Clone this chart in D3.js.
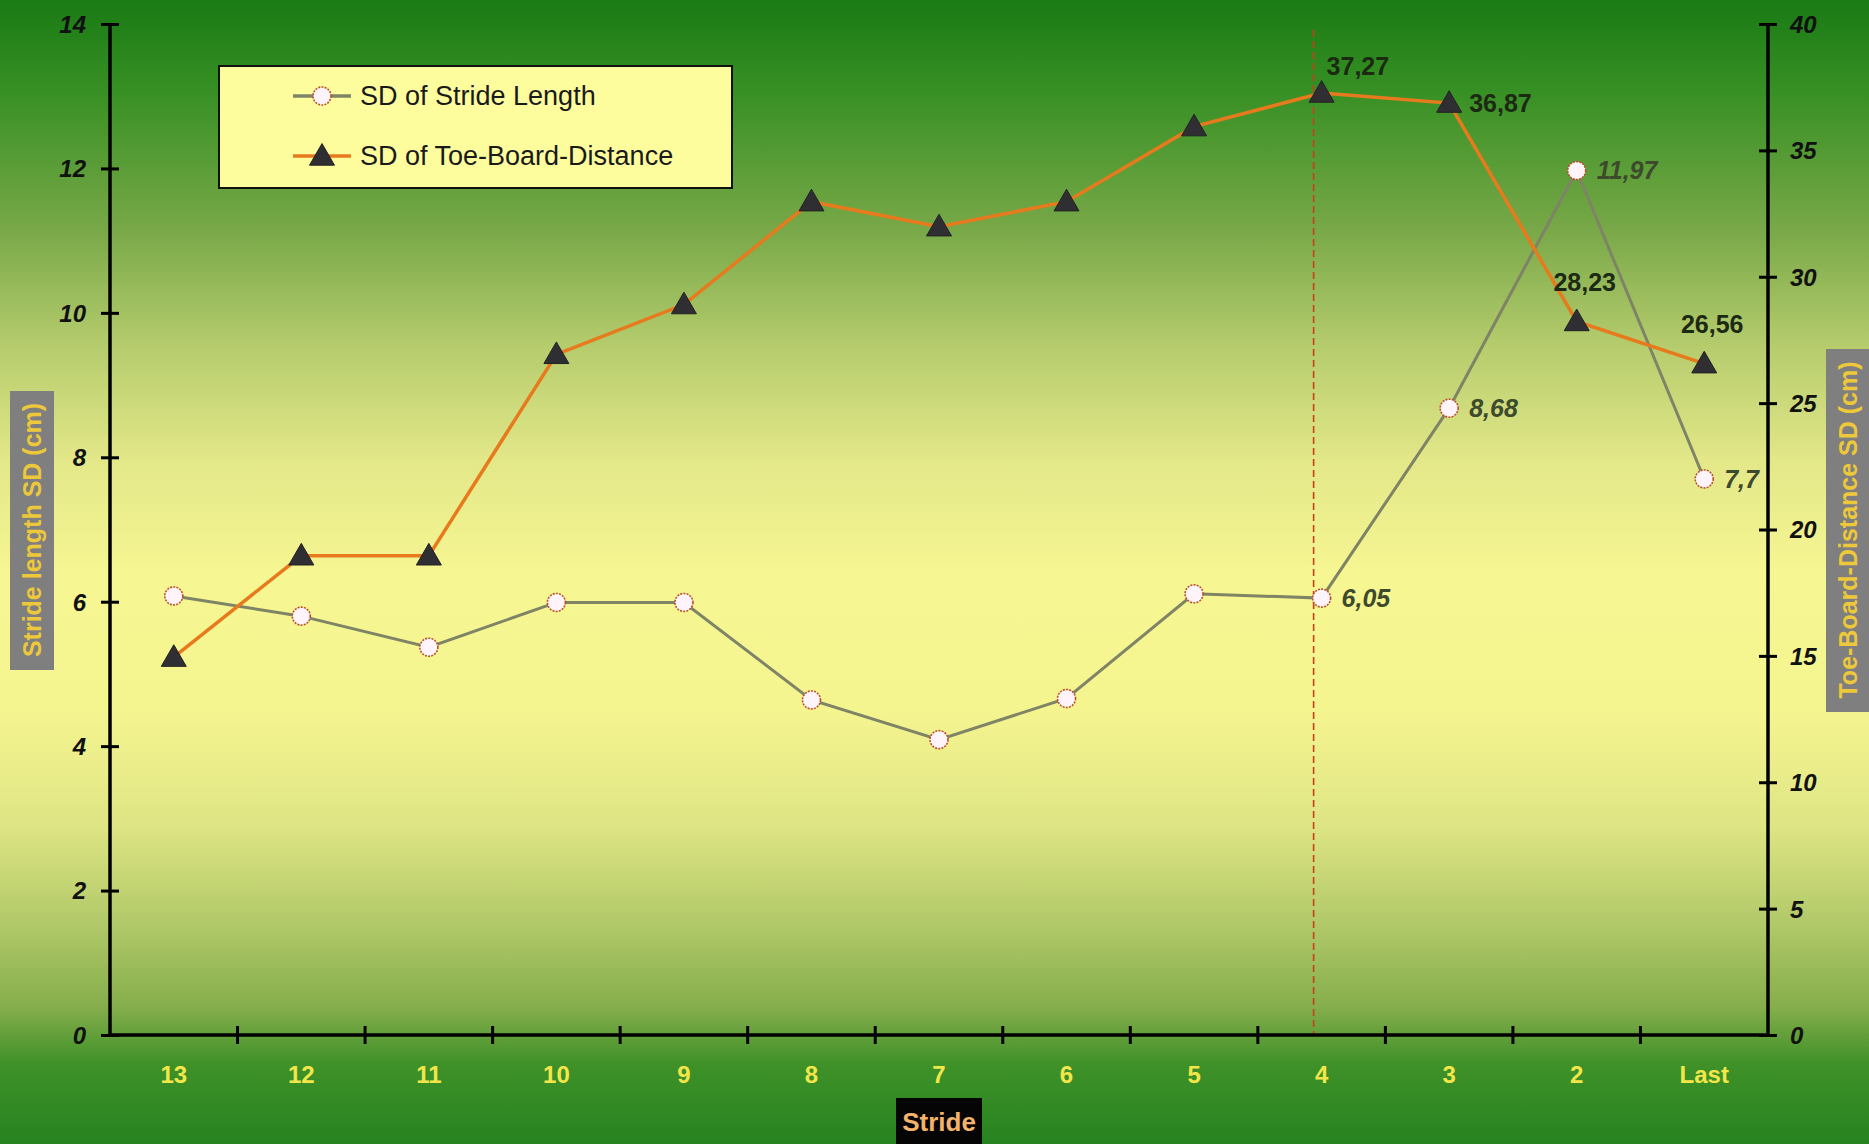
<!DOCTYPE html>
<html><head><meta charset="utf-8">
<script src="https://cdn.jsdelivr.net/npm/d3@7"></script>
<style>html,body{margin:0;padding:0;overflow:hidden;background:#2a8520}</style>
</head><body>
<script>
const categories = ["13","12","11","10","9","8","7","6","5","4","3","2","Last"];
const strideSD = [6.08, 5.80, 5.37, 5.99, 5.99, 4.64, 4.09, 4.66, 6.11, 6.05, 8.68, 11.97, 7.7];
const toeBoardSD = [14.95, 18.96, 18.96, 26.93, 28.9, 32.97, 31.98, 32.97, 35.94, 37.27, 36.87, 28.23, 26.56];
const strideLabels = [null,null,null,null,null,null,null,null,null,"6,05","8,68","11,97","7,7"];
const toeLabels = [null,null,null,null,null,null,null,null,null,"37,27","36,87","28,23","26,56"];
const toeLabelPos = [null,null,null,null,null,null,null,null,null,"aboveRight","right","above","above"];
const leftTicks = [0,2,4,6,8,10,12,14];
const rightTicks = [0,5,10,15,20,25,30,35,40];
const markerCategory = "4";
const seriesNames = ["SD of Stride Length","SD of Toe-Board-Distance"];
const xTitle = "Stride";
const leftTitle = "Stride length SD (cm)";
const rightTitle = "Toe-Board-Distance SD (cm)";

const W = 1869, H = 1144;
const svg = d3.select("body").append("svg").attr("width", W).attr("height", H)
  .style("font-family", "'Liberation Sans', Arial, sans-serif");

const defs = svg.append("defs");
const g = defs.append("linearGradient").attr("id","bg").attr("x1",0).attr("y1",0).attr("x2",0).attr("y2",1);
[[0,"#1a7a14"],[0.08,"#379024"],[0.2,"#78a848"],[0.3,"#b4cb6c"],[0.4,"#e2e788"],[0.5,"#f6f692"],[0.62,"#f5f590"],[0.72,"#dfe584"],[0.81,"#b0c868"],[0.88,"#86ae4c"],[0.93,"#3f9128"],[1,"#268320"]]
  .forEach(([o,c]) => g.append("stop").attr("offset", o).attr("stop-color", c));
svg.append("rect").attr("width", W).attr("height", H).attr("fill", "url(#bg)");

const L = 110, R = 1768, T = 24, B = 1035;
const x = d3.scaleBand().domain(categories).range([L, R]);
const cx = d => x(d) + x.bandwidth()/2;
const yL = d3.scaleLinear().domain([0,14]).range([B, T]);
const yR = d3.scaleLinear().domain([0,40]).range([B, T]);

// dashed marker line
svg.append("line")
  .attr("x1", cx(markerCategory) - 8).attr("x2", cx(markerCategory) - 8)
  .attr("y1", T + 6).attr("y2", B)
  .attr("stroke", "#c8401c").attr("stroke-width", 1.6).attr("stroke-dasharray", "7,4");

const axisStyle = sel => {
  sel.select(".domain").remove();
  sel.selectAll(".tick line").attr("stroke","#000").attr("stroke-width",3);
};
// left
const gl = svg.append("g").attr("transform", `translate(${L},0)`)
  .call(d3.axisLeft(yL).tickValues(leftTicks).tickSize(0).tickPadding(24).tickFormat(d3.format("d")));
gl.call(axisStyle);
gl.selectAll(".tick line").attr("x1",-9).attr("x2",9);
gl.selectAll(".tick text").attr("font-size",24).attr("font-weight","bold").attr("font-style","italic").attr("fill","#111").attr("dy","0.35em");
gl.append("line").attr("y1",T).attr("y2",B).attr("stroke","#000").attr("stroke-width",3.5);

// right
const gr = svg.append("g").attr("transform", `translate(${R},0)`)
  .call(d3.axisRight(yR).tickValues(rightTicks).tickSize(0).tickPadding(22).tickFormat(d3.format("d")));
gr.call(axisStyle);
gr.selectAll(".tick line").attr("x1",-9).attr("x2",9);
gr.selectAll(".tick text").attr("font-size",24).attr("font-weight","bold").attr("font-style","italic").attr("fill","#111").attr("dy","0.35em");
gr.append("line").attr("y1",T).attr("y2",B).attr("stroke","#000").attr("stroke-width",3.5);

// bottom
const gb = svg.append("g").attr("transform", `translate(0,${B})`)
  .call(d3.axisBottom(x).tickSize(0).tickPadding(40));
gb.select(".domain").remove();
gb.selectAll(".tick text").attr("font-size",24).attr("font-weight","bold").attr("fill","#f2e64a").attr("dy","0.35em");
gb.append("line").attr("x1",L).attr("x2",R).attr("stroke","#000").attr("stroke-width",3.5);
gb.selectAll(".bnd").data(categories.slice(1)).enter().append("line")
  .attr("x1", d => x(d)).attr("x2", d => x(d)).attr("y1",-9).attr("y2",9)
  .attr("stroke","#000").attr("stroke-width",3);

// lines
const lineL = d3.line().x((d,i) => cx(categories[i])).y(d => yL(d));
const lineR = d3.line().x((d,i) => cx(categories[i])).y(d => yR(d));
svg.append("path").datum(strideSD).attr("d", lineL).attr("fill","none").attr("stroke","#7f8466").attr("stroke-width",3);
svg.append("path").datum(toeBoardSD).attr("d", lineR).attr("fill","none").attr("stroke","#e87a1e").attr("stroke-width",3.5);

const tri = d3.symbol().type(d3.symbolTriangle).size(270);
function circleMarker(sel, px, py){
  sel.append("circle").attr("cx",px).attr("cy",py).attr("r",9)
    .attr("fill","#fff4fa").attr("stroke","#b8502e").attr("stroke-width",1.6).attr("stroke-dasharray","2,1.2");
}
function triMarker(sel, px, py){
  sel.append("path").attr("d", tri).attr("transform",`translate(${px},${py+2})`)
    .attr("fill","#2f2f33").attr("stroke","#222").attr("stroke-width",1);
}
const mk = svg.append("g");
strideSD.forEach((v,i) => circleMarker(mk, cx(categories[i]), yL(v)));
toeBoardSD.forEach((v,i) => triMarker(mk, cx(categories[i]), yR(v)));

// labels
const lab = svg.append("g").attr("font-weight","bold").attr("font-size",25);
strideSD.forEach((v,i) => {
  if (!strideLabels[i]) return;
  lab.append("text").attr("x", cx(categories[i]) + 20).attr("y", yL(v)).attr("dy","0.35em")
    .attr("font-style","italic").attr("fill","#3e4a2c").text(strideLabels[i]);
});
toeBoardSD.forEach((v,i) => {
  if (!toeLabels[i]) return;
  const p = toeLabelPos[i];
  const t = lab.append("text").attr("fill","#1c2a14").text(toeLabels[i]);
  const px = cx(categories[i]), py = yR(v);
  if (p === "right") t.attr("x", px + 20).attr("y", py).attr("dy","0.35em");
  else if (p === "aboveRight") t.attr("x", px + 5).attr("y", py - 27).attr("dy","0.35em");
  else t.attr("x", px + 8).attr("y", py - 39).attr("dy","0.35em").attr("text-anchor","middle");
});

// legend
const lg = svg.append("g");
lg.append("rect").attr("x",219).attr("y",66).attr("width",513).attr("height",122)
  .attr("fill","#fdfd9e").attr("stroke","#111").attr("stroke-width",2);
[["#7f8466","c"],["#e87a1e","t"]].forEach(([col,type],k) => {
  const yy = 96 + k*60;
  lg.append("line").attr("x1",293).attr("x2",351).attr("y1",yy).attr("y2",yy).attr("stroke",col).attr("stroke-width",3.5);
  if (type === "c") circleMarker(lg, 322, yy); else triMarker(lg, 322, yy);
  lg.append("text").attr("x",360).attr("y",yy).attr("dy","0.35em").attr("font-size",27).attr("fill","#1a1a1a").text(seriesNames[k]);
});

// titles
svg.append("rect").attr("x",896).attr("y",1098).attr("width",86).attr("height",46).attr("fill","#050505");
svg.append("text").attr("x",939).attr("y",1122).attr("dy","0.35em").attr("text-anchor","middle")
  .attr("font-size",26).attr("font-weight","bold").attr("fill","#f3b36a").text(xTitle);

svg.append("rect").attr("x",10).attr("y",391).attr("width",44).attr("height",279).attr("fill","#7f7f7f");
svg.append("text").attr("transform","translate(32,530) rotate(-90)").attr("dy","0.35em").attr("text-anchor","middle")
  .attr("font-size",25).attr("font-weight","bold").attr("fill","#ecc83a").text(leftTitle);

svg.append("rect").attr("x",1826).attr("y",349).attr("width",43).attr("height",363).attr("fill","#7f7f7f");
svg.append("text").attr("transform","translate(1848,530) rotate(-90)").attr("dy","0.35em").attr("text-anchor","middle")
  .attr("font-size",25).attr("font-weight","bold").attr("fill","#ecc83a").text(rightTitle);
</script>
</body></html>
